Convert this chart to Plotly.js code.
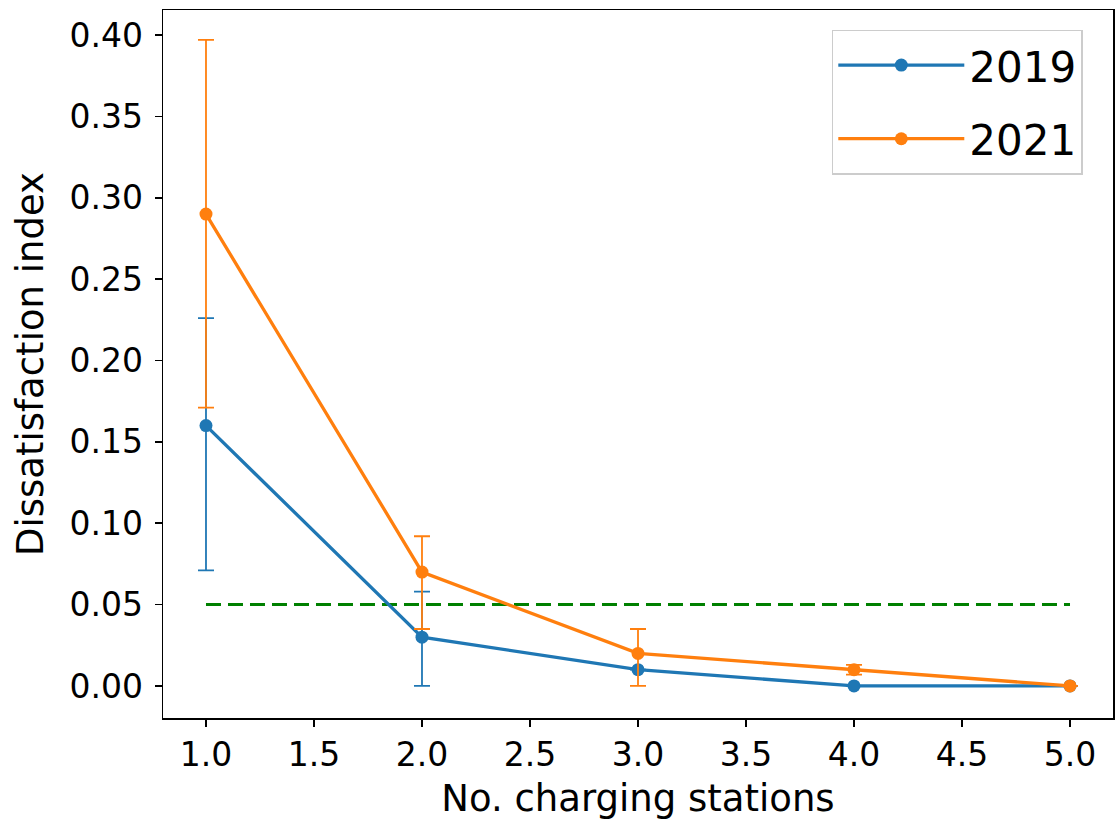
<!DOCTYPE html>
<html>
<head>
<meta charset="utf-8">
<script src="https://cdn.plot.ly/plotly-3.0.1.min.js"></script>
<style>
  html, body { margin: 0; padding: 0; background: #ffffff; }
  #chart { width: 1115px; height: 822px; }
</style>
</head>
<body>
<div id="chart"></div>
<script>
// Number of charging stations
const stations = [1, 2, 3, 4, 5];

// Dissatisfaction index per year, with asymmetric error bars
const index2019 = [0.16, 0.03, 0.01, 0.0, 0.0];
const errUp2019 = [0.066, 0.028, 0.0, 0.0, 0.0];
const errDown2019 = [0.089, 0.03, 0.0, 0.0, 0.0];

const index2021 = [0.29, 0.07, 0.02, 0.01, 0.0];
const errUp2021 = [0.107, 0.022, 0.015, 0.003, 0.0];
const errDown2021 = [0.119, 0.035, 0.02, 0.003, 0.0];

// Acceptable-level threshold line
const thresholdX = [1, 5];
const thresholdY = [0.05, 0.05];

const FONT = 'DejaVu Sans, sans-serif';

function series(name, y, up, down, color) {
  return {
    type: 'scatter',
    mode: 'lines+markers',
    name: name,
    legendgroup: name,
    x: stations,
    y: y,
    line: { color: color, width: 3.3 },
    marker: { color: color, size: 13 },
    error_y: {
      type: 'data',
      symmetric: false,
      array: up,
      arrayminus: down,
      color: color,
      thickness: 1.8,
      width: 8
    },
    cliponaxis: false
  };
}

const traces = [
  {
    type: 'scatter',
    mode: 'lines',
    x: thresholdX,
    y: thresholdY,
    line: { color: '#008000', width: 3, dash: '15px,7px' },
    showlegend: false,
    hoverinfo: 'skip'
  },
  series('2019', index2019, errUp2019, errDown2019, '#1f77b4'),
  series('2021', index2021, errUp2021, errDown2021, '#ff7f0e')
];

const axisCommon = {
  showline: true,
  linecolor: '#000000',
  linewidth: 1.5,
  mirror: true,
  ticks: 'outside',
  ticklen: 7,
  tickwidth: 1.5,
  tickcolor: '#000000',
  showgrid: false,
  zeroline: false,
  tickfont: { family: FONT, size: 33, color: '#000000' }
};

const layout = {
  width: 1115,
  height: 822,
  paper_bgcolor: '#ffffff',
  plot_bgcolor: '#ffffff',
  margin: { l: 163, r: 2, t: 10, b: 104 },
  showlegend: true,
  xaxis: Object.assign({}, axisCommon, {
    range: [0.801, 5.199],
    tickmode: 'linear',
    tick0: 1,
    dtick: 0.5,
    tickformat: '.1f',
    title: { text: 'No. charging stations', font: { family: FONT, size: 37, color: '#000000' }, standoff: 12 }
  }),
  yaxis: Object.assign({}, axisCommon, {
    range: [-0.0197, 0.4154],
    tickmode: 'linear',
    tick0: 0,
    dtick: 0.05,
    tickformat: '.2f',
    ticklabelstandoff: 5,
    title: { text: 'Dissatisfaction index', font: { family: FONT, size: 37, color: '#000000' }, standoff: 14 }
  }),
  legend: {
    x: 0.704,
    xanchor: 'left',
    y: 0.972,
    yanchor: 'top',
    bgcolor: 'rgba(255,255,255,0.8)',
    bordercolor: '#cccccc',
    borderwidth: 1.5,
    font: { family: FONT, size: 42, color: '#000000' },
    traceorder: 'grouped',
    tracegroupgap: 16,
    itemwidth: 126
  }
};

Plotly.newPlot('chart', traces, layout, { displayModeBar: false, staticPlot: true });
</script>
</body>
</html>
